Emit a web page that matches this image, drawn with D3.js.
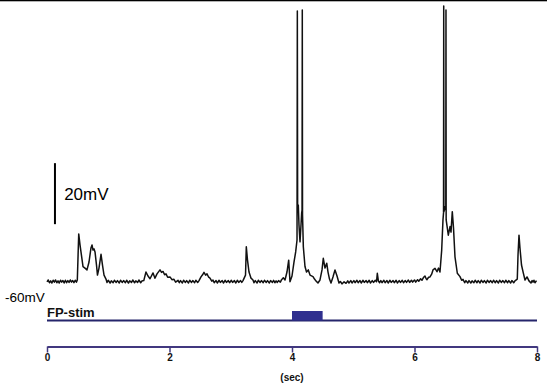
<!DOCTYPE html>
<html><head><meta charset="utf-8">
<script src="https://cdn.jsdelivr.net/npm/d3@7"></script>
<style>
html,body{margin:0;padding:0;background:#fff;}
svg{display:block;}
</style></head>
<body>
<svg id="chart" width="547" height="386"></svg>
<script>
// ---- data ----
const timeTicks = [0, 2, 4, 6, 8];
const timeLabel = "(sec)";
const stimLabel = "FP-stim";
const stimWindow = [4.0, 4.5];            // seconds
const scaleBarMV = [-41.2, -21.2];        // 20 mV scale bar
const scaleBarLabel = "20mV";
const restLabel = "-60mV";
// membrane potential trace: [time (s), mV]
const trace = [
[0.00,-60.1],[0.02,-59.5],[0.04,-60.4],[0.06,-59.8],[0.08,-60.5],[0.10,-59.6],[0.12,-60.2],[0.14,-59.5],[0.16,-60.4],[0.18,-59.8],[0.20,-60.5],[0.22,-59.6],[0.24,-60.2],[0.26,-59.7],[0.28,-60.5],[0.30,-59.6],[0.32,-60.4],[0.34,-59.7],[0.36,-60.3],[0.38,-59.5],[0.40,-60.2],[0.42,-59.7],[0.44,-60.4],[0.46,-59.6],[0.48,-60.2],
[0.495,-59.5],[0.518,-44.4],[0.539,-48.0],[0.588,-55.1],[0.620,-55.6],[0.653,-56.2],[0.686,-53.6],[0.718,-49.0],[0.735,-48.0],[0.751,-49.7],[0.767,-49.3],[0.784,-50.3],[0.808,-54.6],[0.824,-57.9],[0.849,-55.6],[0.882,-51.1],[0.906,-54.6],[0.931,-57.9],[0.963,-59.2],
[0.98,-60.3],[1.00,-59.6],[1.03,-60.5],[1.05,-59.8],[1.08,-60.4],[1.10,-59.6],[1.13,-60.3],[1.15,-59.7],[1.18,-60.5],[1.20,-59.6],[1.23,-60.3],[1.25,-59.7],[1.28,-60.4],[1.30,-59.6],[1.33,-60.5],[1.35,-59.8],[1.38,-60.3],[1.40,-59.5],[1.43,-60.4],[1.45,-59.8],[1.48,-60.3],[1.50,-59.5],[1.53,-60.4],[1.55,-59.8],[1.58,-59.7],
[1.616,-56.9],[1.649,-58.2],[1.682,-59.1],[1.731,-57.2],[1.763,-58.9],[1.796,-57.5],[1.845,-56.2],[1.87,-57.0],[1.894,-56.7],[1.92,-57.8],[1.943,-57.5],[1.97,-58.6],[2.008,-58.5],[2.04,-59.4],[2.073,-59.3],[2.10,-60.2],[2.139,-59.6],
[2.16,-60.4],[2.18,-59.7],[2.21,-60.5],[2.23,-59.6],[2.26,-60.3],[2.28,-59.7],[2.31,-60.5],[2.33,-59.6],[2.36,-60.3],[2.38,-59.7],[2.41,-60.4],[2.43,-59.6],[2.46,-60.3],[2.48,-59.8],
[2.514,-58.5],[2.54,-57.8],[2.563,-57.0],[2.59,-57.9],[2.612,-57.5],[2.64,-58.6],[2.661,-58.9],[2.69,-59.9],[2.71,-59.5],
[2.73,-60.4],[2.76,-59.7],[2.78,-60.5],[2.81,-59.6],[2.83,-60.3],[2.86,-59.7],[2.88,-60.5],[2.91,-59.6],[2.93,-60.3],[2.96,-59.7],[2.98,-60.4],[3.01,-59.6],[3.03,-60.3],[3.06,-59.7],[3.08,-60.5],[3.11,-59.6],[3.13,-60.3],[3.16,-59.7],[3.18,-60.3],[3.20,-59.7],
[3.241,-57.9],[3.254,-48.6],[3.273,-52.9],[3.298,-56.9],[3.331,-58.9],[3.363,-59.5],
[3.38,-60.4],[3.40,-59.7],[3.43,-60.5],[3.45,-59.6],[3.48,-60.3],[3.50,-59.7],[3.53,-60.4],[3.55,-59.6],[3.58,-60.3],[3.60,-59.7],[3.63,-60.5],[3.65,-59.7],[3.68,-60.3],[3.70,-59.6],[3.72,-60.4],[3.74,-59.8],[3.76,-60.3],[3.78,-59.7],[3.81,-60.2],[3.83,-59.4],
[3.858,-58.8],[3.886,-59.5],[3.918,-56.9],[3.946,-53.0],[3.967,-60.1],[4.000,-58.2],[4.033,-53.6],[4.060,-50.3],
[4.082,-46.4],[4.087,28.7],[4.092,-34.9],[4.103,-34.9],[4.114,-41.5],[4.131,-47.0],[4.147,-41.5],[4.158,-37.5],
[4.164,-36.6],[4.168,29.0],[4.172,-38.2],[4.185,-48.6],[4.212,-55.1],[4.237,-56.9],[4.266,-56.2],[4.294,-57.9],[4.343,-58.4],[4.37,-59.3],[4.392,-59.8],[4.424,-60.5],[4.457,-59.5],
[4.490,-56.2],[4.511,-52.4],[4.539,-55.6],[4.567,-54.0],[4.588,-56.9],[4.612,-59.2],[4.637,-60.5],[4.669,-58.5],[4.702,-56.2],[4.735,-58.2],[4.767,-60.5],[4.79,-60.0],[4.816,-60.8],[4.85,-60.1],[4.882,-60.6],
[4.91,-59.8],[4.93,-60.5],[4.96,-59.7],[4.98,-60.5],[5.01,-59.7],[5.03,-60.4],[5.06,-59.6],[5.08,-60.4],[5.11,-59.7],[5.13,-60.5],[5.16,-59.6],[5.18,-60.3],[5.21,-59.7],[5.23,-60.4],[5.26,-59.6],[5.28,-60.5],[5.31,-59.7],[5.33,-60.3],[5.36,-59.6],[5.38,-60.1],[5.393,-57.3],[5.41,-59.8],[5.43,-60.4],[5.45,-59.7],[5.47,-60.4],[5.50,-59.6],[5.52,-60.4],[5.55,-59.7],[5.57,-60.5],[5.60,-59.6],[5.62,-60.3],[5.65,-59.7],[5.67,-60.4],[5.70,-59.6],[5.72,-60.5],[5.75,-59.7],[5.77,-60.3],[5.80,-59.6],[5.82,-60.4],[5.85,-59.7],[5.87,-60.3],[5.90,-59.5],[5.92,-60.3],[5.95,-59.6],[5.97,-60.2],[6.00,-59.5],[6.02,-60.2],[6.05,-59.4],[6.07,-59.9],[6.10,-59.1],
[6.122,-59.6],[6.15,-58.6],[6.171,-58.2],[6.19,-59.1],[6.204,-59.4],[6.23,-58.6],[6.253,-58.5],[6.28,-57.6],[6.302,-56.2],[6.335,-55.7],[6.367,-56.8],[6.392,-55.6],[6.416,-56.9],[6.444,-49.7],[6.465,-39.8],
[6.474,-37.5],[6.477,30.3],[6.480,-37.2],[6.498,-35.5],[6.511,-36.5],[6.514,29.0],[6.517,-39.8],[6.552,-44.8],[6.580,-42.0],[6.596,-43.8],[6.617,-37.1],[6.637,-42.5],[6.661,-51.9],[6.699,-57.3],[6.743,-58.4],[6.77,-59.6],[6.792,-59.3],
[6.82,-60.4],[6.84,-59.7],[6.87,-60.5],[6.89,-59.7],[6.92,-60.5],[6.94,-59.8],[6.97,-60.4],[6.99,-59.6],[7.02,-60.4],[7.04,-59.7],[7.07,-60.5],[7.09,-59.6],[7.12,-60.3],[7.14,-59.7],[7.17,-60.5],[7.19,-59.6],[7.22,-60.3],[7.24,-59.7],[7.27,-60.4],[7.29,-59.6],[7.32,-60.4],[7.34,-59.7],[7.37,-60.5],[7.39,-59.6],[7.42,-60.3],[7.44,-59.7],[7.47,-60.4],[7.49,-59.6],[7.52,-60.4],[7.54,-59.7],[7.57,-60.5],[7.59,-59.7],[7.62,-60.4],[7.64,-59.8],
[7.678,-59.2],[7.690,-51.3],[7.706,-44.8],[7.722,-49.0],[7.747,-54.6],[7.776,-57.2],[7.804,-59.5],[7.837,-58.5],[7.869,-59.8],[7.902,-60.5],[7.92,-59.7],[7.935,-60.2],[7.95,-59.6],[7.967,-60.4],[7.992,-59.7]
];

// ---- drawing ----
const svg = d3.select("#chart");
const x = d3.scaleLinear().domain([0, 8]).range([47, 537]);
const y = d3.scaleLinear().domain([-60, 30]).range([281.5, 7]);

// top border line
svg.append("rect").attr("x", 0).attr("y", 0).attr("width", 547).attr("height", 1.3).attr("fill", "#000");

// trace
svg.append("path")
  .datum(trace)
  .attr("fill", "none")
  .attr("stroke", "#111")
  .attr("stroke-width", 1.5)
  .attr("stroke-linejoin", "round")
  .attr("d", d3.line().x(d => x(d[0])).y(d => y(d[1])));

// scale bar
svg.append("line")
  .attr("x1", x(0.13)).attr("x2", x(0.13))
  .attr("y1", y(scaleBarMV[0])).attr("y2", y(scaleBarMV[1]))
  .attr("stroke", "#000").attr("stroke-width", 2);
svg.append("text")
  .attr("x", x(0.28)).attr("y", y((scaleBarMV[0] + scaleBarMV[1]) / 2) + 6)
  .attr("font-family", "Liberation Sans, Arial, sans-serif")
  .attr("font-size", 17).attr("fill", "#000")
  .text(scaleBarLabel);

// -60mV label
svg.append("text")
  .attr("x", 5).attr("y", 302)
  .attr("font-family", "Liberation Sans, Arial, sans-serif")
  .attr("font-size", 13.5).attr("fill", "#000")
  .text(restLabel);

// stimulus line
const stimY = 320.5;
svg.append("line")
  .attr("x1", x(0)).attr("x2", x(8))
  .attr("y1", stimY).attr("y2", stimY)
  .attr("stroke", "#25256b").attr("stroke-width", 2);
svg.append("rect")
  .attr("x", x(stimWindow[0])).attr("y", 311)
  .attr("width", x(stimWindow[1]) - x(stimWindow[0])).attr("height", stimY - 311)
  .attr("fill", "#2f2f8f");
svg.append("text")
  .attr("x", x(0)).attr("y", 317)
  .attr("font-family", "Liberation Sans, Arial, sans-serif")
  .attr("font-weight", "bold").attr("font-size", 13).attr("fill", "#111")
  .text(stimLabel);

// time axis
const axisG = svg.append("g").attr("transform", "translate(0,346.5)")
  .call(d3.axisBottom(x).tickValues(timeTicks).tickSize(6).tickSizeOuter(0).tickPadding(1.5).tickFormat(d3.format("d")));
axisG.select(".domain").attr("stroke", "#41387f").attr("stroke-width", 2);
axisG.selectAll(".tick line").attr("stroke", "#41387f").attr("stroke-width", 1.5);
axisG.selectAll(".tick text")
  .attr("font-family", "Liberation Sans, Arial, sans-serif")
  .attr("font-weight", "bold").attr("font-size", 10).attr("fill", "#111");
svg.append("text")
  .attr("x", x(4)).attr("y", 381)
  .attr("text-anchor", "middle")
  .attr("font-family", "Liberation Sans, Arial, sans-serif")
  .attr("font-weight", "bold").attr("font-size", 10).attr("fill", "#111")
  .text(timeLabel);
</script>
</body></html>
